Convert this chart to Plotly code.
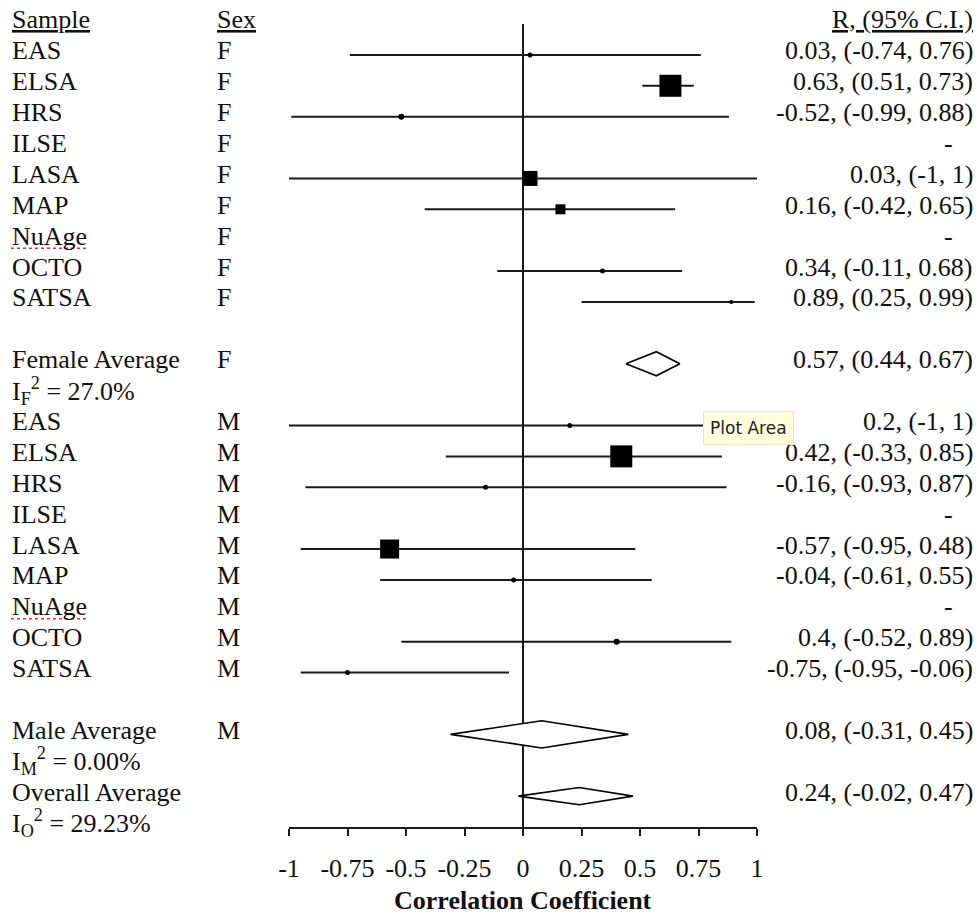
import plotly.graph_objects as go

# ---------------- data ----------------
samples = ["EAS", "ELSA", "HRS", "ILSE", "LASA", "MAP", "NuAge", "OCTO", "SATSA"]
female_r = [0.03, 0.63, -0.52, None, 0.03, 0.16, None, 0.34, 0.89]
female_lo = [-0.74, 0.51, -0.99, None, -1, -0.42, None, -0.11, 0.25]
female_hi = [0.76, 0.73, 0.88, None, 1, 0.65, None, 0.68, 0.99]
male_r = [0.2, 0.42, -0.16, None, -0.57, -0.04, None, 0.4, -0.75]
male_lo = [-1, -0.33, -0.93, None, -0.95, -0.61, None, -0.52, -0.95]
male_hi = [1, 0.85, 0.87, None, 0.48, 0.55, None, 0.89, -0.06]
avg_names = ["Female Average", "Male Average", "Overall Average"]
avg_sex = ["F", "M", ""]
avg_r = [0.57, 0.08, 0.24]
avg_lo = [0.44, -0.31, -0.02]
avg_hi = [0.67, 0.45, 0.47]
i2_labels = ["I<sub>F</sub><sup>2</sup> = 27.0%",
             "I<sub>M</sub><sup>2</sup> = 0.00%",
             "I<sub>O</sub><sup>2</sup> = 29.23%"]
tick_vals = [-1, -0.75, -0.5, -0.25, 0, 0.25, 0.5, 0.75, 1]
tick_text = ["-1", "-0.75", "-0.5", "-0.25", "0", "0.25", "0.5", "0.75", "1"]

# ---------------- style ----------------
female_px = [5, 22, 6, 0, 15, 10, 0, 5, 4]
male_px = [5, 22, 5, 0, 19, 5, 0, 6, 5]
diamond_half = [0.39, 0.44, 0.28]
W, H = 979, 916
FONT = "Liberation Serif"
FS = 26
INK = "#111111"

# row layout
female_rows = list(range(1, 10))
male_rows = list(range(13, 22))
avg_rows = [11, 23, 25]
i2_rows = [12, 24, 26]


def fmt(v):
    return f"{v:g}"


def ci_text(r, lo, hi):
    if r is None:
        return "-"
    return f"{fmt(r)}, ({fmt(lo)}, {fmt(hi)})"


fig = go.Figure()

# CI whiskers
lx, ly = [], []
for rows, lo, hi in [(female_rows, female_lo, female_hi), (male_rows, male_lo, male_hi)]:
    for rw, a, b in zip(rows, lo, hi):
        if a is None:
            continue
        lx += [a, b, None]
        ly += [rw, rw, None]
fig.add_trace(go.Scatter(x=lx, y=ly, mode="lines",
                         line=dict(color="#1a1a1a", width=2), hoverinfo="skip"))

# point estimates
px_, py_, ps_, sym_ = [], [], [], []
for rows, rr, sz in [(female_rows, female_r, female_px), (male_rows, male_r, male_px)]:
    for rw, v, s in zip(rows, rr, sz):
        if v is None:
            continue
        px_.append(v)
        py_.append(rw)
        ps_.append(s)
        sym_.append("square" if s >= 9 else "circle")
fig.add_trace(go.Scatter(x=px_, y=py_, mode="markers", opacity=1,
                         marker=dict(color="#000000", opacity=1, size=ps_, symbol=sym_,
                                     line=dict(width=0, color="#000000")),
                         hoverinfo="skip"))

# diamonds
for rw, r, lo, hi, hh in zip(avg_rows, avg_r, avg_lo, avg_hi, diamond_half):
    fig.add_trace(go.Scatter(x=[lo, r, hi, r, lo], y=[rw, rw - hh, rw, rw + hh, rw],
                             mode="lines", fill="toself", fillcolor="white",
                             line=dict(color="black", width=1.6), hoverinfo="skip"))

annotations = []


def txt(xpx, row, s, anchor="left"):
    annotations.append(dict(x=xpx / W, xref="paper", y=row, yref="y", yshift=4,
                            text=s, showarrow=False, xanchor=anchor, yanchor="middle",
                            align=anchor if anchor != "center" else "center",
                            font=dict(family=FONT, size=FS, color=INK)))


COL_S, COL_X, COL_R = 10, 215, 975

# headers
txt(COL_S, 0, "<u>Sample</u>")
txt(COL_X, 0, "<u>Sex</u>")
txt(COL_R, 0, "<u>R, (95% C.I.)</u>", "right")

for rows, sex, rr, lo, hi in [(female_rows, "F", female_r, female_lo, female_hi),
                              (male_rows, "M", male_r, male_lo, male_hi)]:
    for rw, name, v, a, b in zip(rows, samples, rr, lo, hi):
        txt(COL_S, rw, name)
        txt(COL_X, rw, sex)
        if v is None:
            txt(948, rw, "-", "center")
        else:
            txt(COL_R, rw, ci_text(v, a, b), "right")

for rw, name, sx, r, lo, hi in zip(avg_rows, avg_names, avg_sex, avg_r, avg_lo, avg_hi):
    txt(COL_S, rw, name)
    if sx:
        txt(COL_X, rw, sx)
    txt(COL_R, rw, ci_text(r, lo, hi), "right")

for rw, s in zip(i2_rows, i2_labels):
    txt(COL_S, rw, s)

# axis title
annotations.append(dict(x=0, xref="x", y=(H - 900) / H, yref="paper",
                        text="<b>Correlation Coefficient</b>", showarrow=False,
                        xanchor="center", yanchor="middle",
                        font=dict(family=FONT, size=FS, color=INK)))

# "Plot Area" tooltip
annotations.append(dict(x=703 / W, xref="paper", y=(H - 428) / H, yref="paper",
                        text="Plot Area", showarrow=False, xanchor="left", yanchor="middle",
                        bgcolor="#FFFFDC", bordercolor="#E6E6C8", borderwidth=1, borderpad=6,
                        font=dict(family="DejaVu Sans", size=17, color="#222222")))

shapes = [
    dict(type="line", xref="x", x0=0, x1=0, yref="y domain", y0=0, y1=1,
         line=dict(color="#1a1a1a", width=2), layer="below"),
]
# spell-check underline under NuAge
for rw in [female_rows[6], male_rows[6]]:
    shapes.append(dict(type="line", xref="paper", x0=11 / W, x1=88 / W, yref="y",
                       y0=rw + 0.26, y1=rw + 0.26,
                       line=dict(color="#e03030", width=1.5, dash="dot")))

fig.update_layout(
    width=W, height=H,
    margin=dict(l=0, r=0, t=0, b=0, pad=0),
    paper_bgcolor="white", plot_bgcolor="white",
    showlegend=False,
    annotations=annotations,
    shapes=shapes,
    xaxis=dict(domain=[289 / W, 757 / W], range=[-1, 1],
               tickvals=tick_vals, ticktext=tick_text,
               showgrid=False, zeroline=False, automargin=False,
               showline=True, linecolor="#1a1a1a", linewidth=1.6,
               ticks="outside", ticklen=7, tickwidth=1.6, tickcolor="#1a1a1a",
               ticklabelstandoff=10,
               tickfont=dict(family=FONT, size=FS, color=INK)),
    yaxis=dict(domain=[(H - 827) / H, 1 - 24 / H], range=[26, 0],
               visible=False, showgrid=False, zeroline=False, automargin=False),
)

fig.write_html(
    "out.html",
    config={"displayModeBar": False},
    post_script=("document.body.style.margin='0';"
                 "document.body.style.overflow='hidden';"
                 "document.documentElement.style.overflow='hidden';"),
)
